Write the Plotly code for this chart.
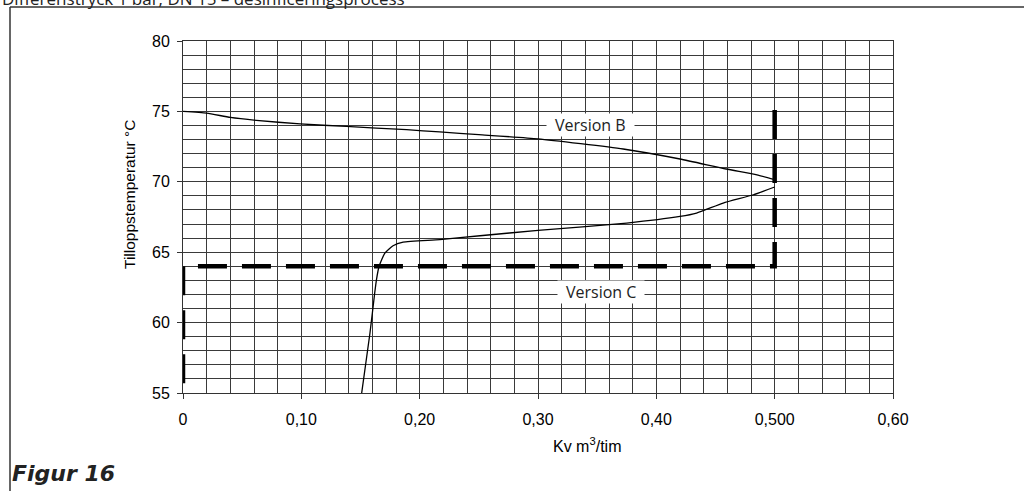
import plotly.graph_objects as go

# Version B curve (upper)
b_kv = [0.0, 0.020, 0.040, 0.062, 0.099, 0.138, 0.189, 0.217, 0.25, 0.30, 0.372, 0.420, 0.459, 0.485, 0.500]
b_temp = [75.0, 74.88, 74.57, 74.36, 74.11, 73.93, 73.70, 73.54, 73.35, 73.05, 72.33, 71.62, 70.91, 70.50, 70.15]

# Version C curve (lower)
c_kv = [0.151, 0.158, 0.162, 0.1635, 0.1657, 0.1706, 0.1775, 0.186, 0.217, 0.251, 0.30, 0.375, 0.420, 0.434, 0.4565, 0.482, 0.500]
c_temp = [55.0, 59.26, 62.1, 63.05, 64.0, 64.94, 65.46, 65.72, 65.89, 66.17, 66.55, 67.07, 67.54, 67.78, 68.49, 69.08, 69.63]

# Thick dashed limit path
limit_kv = [0.5, 0.5, 0.0, 0.0]
limit_temp = [75.1, 64.0, 64.0, 55.0]

x_tickvals = [0, 0.1, 0.2, 0.3, 0.4, 0.5, 0.6]
x_ticktext = ["0", "0,10", "0,20", "0,30", "0,40", "0,500", "0,60"]
y_tickvals = [55, 60, 65, 70, 75, 80]

labels = ["Version B", "Version C"]
label_kv = [0.3446, 0.353]
label_temp = [74.06, 62.14]

fig = go.Figure()
fig.add_trace(go.Scatter(x=limit_kv, y=limit_temp, mode="lines",
                         line=dict(color="black", width=4.5, dash="29px,15px"),
                         hoverinfo="skip", showlegend=False))
fig.add_trace(go.Scatter(x=b_kv, y=b_temp, mode="lines", line=dict(color="black", width=1.3, shape="spline", smoothing=0.5),
                         showlegend=False))
fig.add_trace(go.Scatter(x=c_kv, y=c_temp, mode="lines", line=dict(color="black", width=1.3, shape="spline", smoothing=0.5),
                         showlegend=False))

for t, x, y in zip(labels, label_kv, label_temp):
    fig.add_annotation(x=x, y=y, text="\u2002" + t + "\u2002", showarrow=False, bgcolor="white",
                       borderpad=0, font=dict(family="Open Sans", size=16, color="#222"),
                       xref="x", yref="y", xanchor="center", yanchor="middle")

grid_col = "#3a3a3a"
fig.update_xaxes(range=[0, 0.6], tickvals=x_tickvals, ticktext=x_ticktext,
                 showgrid=True, gridcolor=grid_col, gridwidth=1,
                 minor=dict(dtick=0.02, tick0=0, showgrid=True, gridcolor=grid_col, gridwidth=1, ticks=""),
                 ticks="outside", ticklen=5, tickcolor="#333",
                 showline=True, linecolor="#333", linewidth=1, mirror=True,
                 zeroline=False, ticklabelstandoff=7,
                 tickfont=dict(family="Liberation Sans", size=16, color="black"))
fig.update_yaxes(range=[55, 80], tickvals=y_tickvals,
                 showgrid=True, gridcolor=grid_col, gridwidth=1,
                 minor=dict(dtick=1, tick0=55, showgrid=True, gridcolor=grid_col, gridwidth=1, ticks=""),
                 ticks="outside", ticklen=5, tickcolor="#333",
                 showline=True, linecolor="#333", linewidth=1, mirror=True,
                 zeroline=False, ticklabelstandoff=4,
                 tickfont=dict(family="Liberation Sans", size=16, color="black"))

L, R, T, B = 183, 131, 41, 98
W, H = 1024, 491
pw, ph = W - L - R, H - T - B

def px(xp):
    return (xp - L) / pw

def py(yp):
    return (H - B - yp) / ph

# axis titles and page texts (placed by pixel position)
fig.add_annotation(text="Tilloppstemperatur °C", textangle=-90, x=px(129), y=py(195),
                   xref="paper", yref="paper", showarrow=False, xanchor="center", yanchor="middle",
                   font=dict(family="Liberation Sans", size=15.5, color="black"))
fig.add_annotation(text="Kv m<sup>3</sup>/tim", x=px(587), y=py(445), xref="paper", yref="paper",
                   showarrow=False, xanchor="center", yanchor="middle",
                   font=dict(family="Liberation Sans", size=16, color="black"))
fig.add_annotation(text="Differenstryck 1 bar, DN 15 – desinficeringsprocess", x=px(0), y=py(12),
                   xref="paper", yref="paper", showarrow=False, xanchor="left", yanchor="bottom",
                   font=dict(family="Open Sans", size=17, color="#222"))
fig.add_annotation(text="<b><i>Figur 16</i></b>", x=px(10), y=py(474), xref="paper", yref="paper",
                   showarrow=False, xanchor="left", yanchor="middle",
                   font=dict(family="DejaVu Sans", size=22, color="#222"))

# outer frame (top and left)
fig.add_shape(type="line", xref="paper", yref="paper", x0=px(10), x1=px(1030), y0=py(7), y1=py(7),
              line=dict(color="#333", width=1.5))
fig.add_shape(type="line", xref="paper", yref="paper", x0=px(10), x1=px(10), y0=py(7), y1=py(500),
              line=dict(color="#333", width=1.5))

fig.update_layout(width=W, height=H, margin=dict(l=L, r=R, t=T, b=B),
                  plot_bgcolor="white", paper_bgcolor="white", showlegend=False)

fig.write_html("out.html")
